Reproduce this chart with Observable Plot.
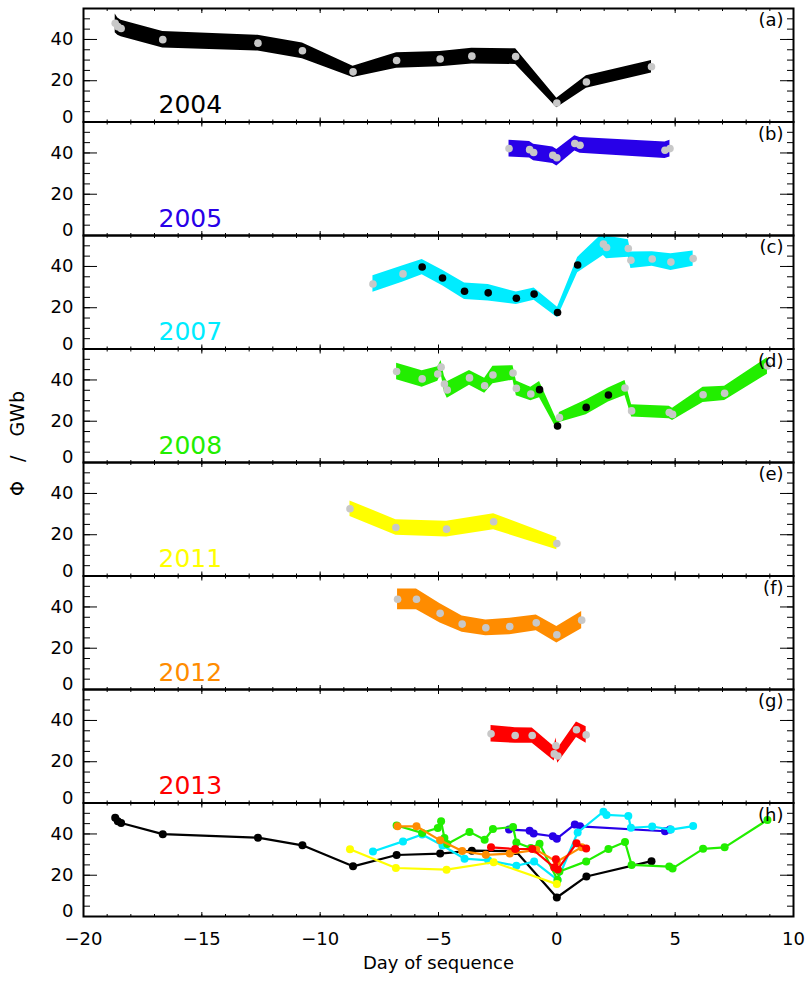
<!DOCTYPE html>
<html>
<head>
<meta charset="utf-8">
<script src="https://cdn.jsdelivr.net/npm/d3@7"></script>
<script src="https://cdn.jsdelivr.net/npm/@observablehq/plot@0.6"></script>
<style>
  body { margin: 0; background: #fff; }
  #chart svg { display: block; }
</style>
</head>
<body>
<div id="chart"></div>
<script>
// Magnetic flux Φ (GWb) against day of sequence, one panel per campaign year
const panels = ["a", "b", "c", "d", "e", "f", "g", "h"];
const years = ["2004", "2005", "2007", "2008", "2011", "2012", "2013"];
const yearColors = ["#000000", "#2800e8", "#00ecff", "#22ee00", "#ffff00", "#ff8c00", "#ff0000"];

// 2004
const day2004 = [-18.66, -18.55, -18.41, -16.65, -12.63, -10.75, -8.61, -6.77, -4.93, -3.59, -1.74, 0, 1.25, 4.0];
const phi2004 = [47.8, 46.2, 45.3, 39.9, 38.2, 34.5, 24.3, 29.8, 30.5, 31.9, 31.7, 9.2, 19.4, 26.8];
const err2004 = [4.5, 4.2, 4.0, 4.0, 3.8, 3.8, 2.7, 3.8, 3.7, 3.8, 3.8, 2.3, 3.0, 3.0];
const dark2004 = [0, 0, 0, 0, 0, 0, 0, 0, 0, 0, 0, 0, 0, 0];

// 2005
const day2005 = [-2.02, -1.15, -0.98, -0.17, 0, 0.76, 0.98, 4.57, 4.78];
const phi2005 = [42.1, 41.6, 40.2, 38.9, 37.7, 44.6, 43.7, 41.3, 42.1];
const err2005 = [4.0, 4.0, 4.0, 4.0, 4.0, 3.7, 3.8, 4.0, 4.0];
const dark2005 = [0, 0, 0, 0, 0, 0, 0, 0, 0];

// 2007
const day2007 = [-7.77, -6.5, -5.69, -4.83, -3.9, -2.9, -1.71, -0.96, 0.03, 0.88, 1.97, 2.1, 3.02, 3.13, 4.03, 4.82, 5.76];
const phi2007 = [31.5, 36.4, 39.7, 34.4, 28.0, 27.2, 24.6, 26.6, 17.7, 40.7, 50.8, 49.2, 48.7, 43.0, 43.6, 42.1, 43.8];
const err2007 = [4.0, 3.9, 3.7, 3.8, 4.0, 4.0, 3.0, 3.0, 2.5, 3.7, 5.5, 5.5, 4.2, 4.0, 3.5, 4.0, 3.7];
const dark2007 = [0, 0, 1, 1, 1, 1, 1, 1, 1, 1, 0, 0, 0, 0, 0, 0, 0];

// 2008
const day2008 = [-6.77, -5.69, -5.03, -4.89, -4.75, -4.63, -3.69, -3.05, -2.70, -1.85, -1.71, -1.10, -0.73, 0.03, 0.11, 1.24, 2.18, 2.88, 3.16, 4.75, 4.89, 6.18, 7.09, 8.9];
const phi2008 = [44.1, 40.5, 42.9, 46.2, 38.0, 35.1, 41.0, 37.2, 42.4, 43.4, 35.9, 33.2, 35.3, 17.7, 21.8, 26.7, 32.7, 36.1, 25.0, 24.2, 23.3, 32.8, 33.5, 46.8];
const err2008 = [4.0, 4.0, 3.5, 3.2, 3.8, 4.0, 3.6, 3.6, 4.2, 3.5, 3.6, 3.3, 3.9, 2.2, 2.4, 3.6, 3.4, 3.6, 3.0, 3.0, 3.0, 3.7, 3.5, 4.0];
const dark2008 = [0, 0, 0, 0, 0, 0, 0, 0, 0, 0, 0, 0, 1, 1, 0, 1, 1, 0, 0, 0, 0, 0, 0, 0];

// 2011
const day2011 = [-8.74, -6.80, -4.66, -2.67, 0];
const phi2011 = [32.6, 23.5, 22.7, 26.3, 15.7];
const err2011 = [3.8, 3.8, 3.8, 3.9, 3.0];
const dark2011 = [0, 0, 0, 0, 0];

// 2012
const day2012 = [-6.73, -5.93, -4.93, -4.0, -3.0, -1.99, -0.87, 0, 1.05];
const phi2012 = [43.7, 43.7, 36.9, 31.7, 29.9, 30.5, 32.3, 26.5, 33.6];
const err2012 = [5.0, 5.0, 4.7, 3.9, 3.8, 4.0, 3.8, 4.0, 4.2];
const dark2012 = [0, 0, 0, 0, 0, 0, 0, 0, 0];

// 2013
const day2013 = [-2.78, -1.76, -1.04, -0.11, -0.04, 0.04, 0.83, 1.24];
const phi2013 = [33.5, 32.7, 32.7, 23.8, 27.7, 22.8, 35.5, 33.0];
const err2013 = [4.0, 3.8, 3.7, 3.5, 3.8, 3.5, 3.7, 4.0];
const dark2013 = [0, 0, 0, 0, 0, 0, 0, 0];

// axis ticks
const xMajor = [-20, -15, -10, -5, 0, 5, 10];
const xMinor = d3.range(-20, 11, 1);
const yLabelTicks = [20, 40];
const yMajor = [0, 20, 40];
const yMinor = d3.range(0, 56, 5);

const series = [
  {year: "2004", panel: "a", day: day2004, phi: phi2004, err: err2004, dark: dark2004},
  {year: "2005", panel: "b", day: day2005, phi: phi2005, err: err2005, dark: dark2005},
  {year: "2007", panel: "c", day: day2007, phi: phi2007, err: err2007, dark: dark2007},
  {year: "2008", panel: "d", day: day2008, phi: phi2008, err: err2008, dark: dark2008},
  {year: "2011", panel: "e", day: day2011, phi: phi2011, err: err2011, dark: dark2011},
  {year: "2012", panel: "f", day: day2012, phi: phi2012, err: err2012, dark: dark2012},
  {year: "2013", panel: "g", day: day2013, phi: phi2013, err: err2013, dark: dark2013}
];

const rows = series.flatMap(s => s.day.map((d, i) => ({
  year: s.year, panel: s.panel, day: d, phi: s.phi[i],
  lo: s.phi[i] - s.err[i], hi: s.phi[i] + s.err[i], dark: s.dark[i] === 1
})));

const font = "DejaVu Sans, sans-serif";

// overview panel (h): every year as a line with markers, drawn year by year
const overview = years.flatMap((y, i) => {
  const r = rows.filter(d => d.year === y);
  return [
    Plot.line(r, {x: "day", y: "phi", fy: () => "h", stroke: yearColors[i], strokeWidth: 2.2}),
    Plot.dot(r, {x: "day", y: "phi", fy: () => "h", r: 4, fill: yearColors[i]})
  ];
});

const chart = Plot.plot({
  width: 808,
  height: 982,
  marginTop: 8,
  marginBottom: 66,
  marginLeft: 83,
  marginRight: 15,
  style: {fontFamily: font, fontSize: "18px", background: "white", color: "black"},
  x: {domain: [-20, 10]},
  y: {domain: [0, 55]},
  fy: {domain: panels, padding: 0, round: false, axis: null},
  color: {domain: years, range: yearColors},
  marks: [
    // uncertainty bands
    Plot.areaY(rows, {x: "day", y1: "lo", y2: "hi", fill: "year", fy: "panel", clip: true}),
    // measurements: grey and black markers
    Plot.dot(rows.filter(d => !d.dark), {x: "day", y: "phi", fy: "panel", r: 3.8, fill: "#c8c8c8"}),
    Plot.dot(rows.filter(d => d.dark), {x: "day", y: "phi", fy: "panel", r: 3.8, fill: "black"}),
    ...overview,

    // inward ticks on all four sides of every panel
    Plot.axisY({anchor: "left", ticks: yMinor, tickSize: 7, dx: 7, fill: "none", label: null, facetAnchor: null}),
    Plot.axisY({anchor: "left", ticks: yMajor, tickSize: 14, dx: 14, fill: "none", label: null, facetAnchor: null}),
    Plot.axisY({anchor: "right", ticks: yMinor, tickSize: 7, dx: -7, fill: "none", label: null, facetAnchor: null}),
    Plot.axisY({anchor: "right", ticks: yMajor, tickSize: 14, dx: -14, fill: "none", label: null, facetAnchor: null}),
    Plot.axisX({anchor: "bottom", ticks: xMinor, tickSize: 2, dy: -2, fill: "none", label: null, facetAnchor: null}),
    Plot.axisX({anchor: "bottom", ticks: xMajor, tickSize: 4, dy: -4, fill: "none", label: null, facetAnchor: null}),
    Plot.axisX({anchor: "top", ticks: xMinor, tickSize: 2, dy: 2, fill: "none", label: null, facetAnchor: null}),
    Plot.axisX({anchor: "top", ticks: xMajor, tickSize: 4, dy: 4, fill: "none", label: null, facetAnchor: null}),

    // tick labels
    Plot.axisY({anchor: "left", ticks: yLabelTicks, tickSize: 0, tickPadding: 10, label: null, fontSize: 18, facetAnchor: null}),
    Plot.axisY({anchor: "left", ticks: [0], tickSize: 0, tickPadding: 10, dy: -5, label: null, fontSize: 18, facetAnchor: null}),
    Plot.axisX({anchor: "bottom", ticks: xMajor, tickSize: 0, tickPadding: 16, label: null, fontSize: 18}),

    Plot.frame({stroke: "black", strokeWidth: 2}),

    // year names and panel letters
    Plot.text(series, {fy: "panel", text: "year", fill: "year", frameAnchor: "bottom-left",
      textAnchor: "start", lineAnchor: "bottom", dx: 75, dy: -9, fontSize: 25}),
    Plot.text(panels, {fy: d => d, text: d => `(${d})`, frameAnchor: "top-right",
      textAnchor: "end", lineAnchor: "top", dx: -10, dy: 5, fontSize: 18}),

    // axis titles
    Plot.text(["Φ\u2003/\u2003GWb"], {fy: () => "d", text: d => d, frameAnchor: "bottom-left",
      rotate: -90, textAnchor: "middle", dx: -60, dy: -19, fontSize: 19}),
    Plot.text(["Day of sequence"], {fy: () => "h", text: d => d, frameAnchor: "bottom",
      dy: 52, fontSize: 18})
  ]
});

document.getElementById("chart").append(chart);
</script>
</body>
</html>
